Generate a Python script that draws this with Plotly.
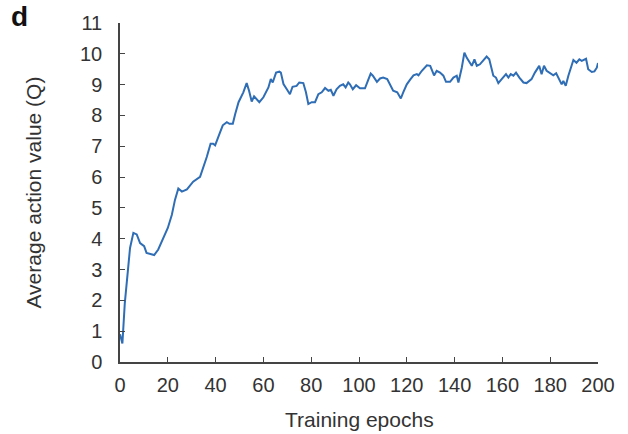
import plotly.graph_objects as go

# Data
epochs = [0, 1, 2, 4.2, 5.6, 7, 8.4, 10.1, 11.1, 13.2, 14.3, 16, 18.1, 20, 21.7, 23, 24.4,
          25.9, 28, 30.6, 33.5, 34.8, 36.3, 37.9, 39, 39.8, 40.7, 41.9, 43, 44.7, 45.8,
          47.2, 48.2, 49.6, 51.6, 53, 54, 55.1, 56.1, 57.2, 58.3, 60, 62.1, 63.1, 63.9,
          65.3, 66.7, 67.3, 68.4, 69.8, 71.1, 72.2, 73.9, 75, 76.7, 77.8, 78.8, 80.2,
          81.6, 83, 84.4, 85.8, 87.2, 88.2, 89.3, 90.6, 92, 93.4, 94.4, 95.5, 96.2, 97.4,
          98.8, 100.4, 102.5, 103.7, 104.9, 105.8, 107.5, 108.8, 110.1, 111.8, 113,
          114.3, 116, 117.5, 118.5, 120, 121.4, 122.8, 124.2, 124.9, 126.3, 128.4, 129.8,
          130.4, 131.4, 132.5, 133.9, 135.3, 136.4, 138.1, 139.5, 140.9, 141.6, 143,
          144.1, 145.1, 146.2, 147.2, 148.3, 149.3, 150.6, 152, 153.4, 154.5, 156.2,
          157.3, 158.3, 159.7, 161.5, 162.5, 163.5, 164.6, 165.7, 167.1, 168.8, 170.1,
          172.2, 173.6, 175.4, 176.4, 177.4, 178.5, 179.9, 181.3, 182.5, 183.8, 184.8,
          185.5, 186.5, 187.6, 188.8, 189.7, 191, 192.2, 193.2, 194.1, 195, 195.9, 197.4,
          198.5, 199.5, 200]
avg_q = [0.9, 0.6, 1.9, 3.7, 4.19, 4.14, 3.86, 3.76, 3.54, 3.5, 3.47, 3.65, 4.02, 4.35,
         4.78, 5.26, 5.63, 5.53, 5.6, 5.85, 6.01, 6.28, 6.65, 7.08, 7.08, 7.03, 7.24, 7.46,
         7.68, 7.78, 7.73, 7.73, 8.05, 8.43, 8.75, 9.05, 8.8, 8.45, 8.62, 8.53, 8.43, 8.59,
         8.91, 9.18, 9.07, 9.39, 9.42, 9.39, 9.02, 8.85, 8.69, 8.93, 8.96, 9.07, 9.05, 8.75,
         8.37, 8.43, 8.43, 8.69, 8.75, 8.89, 8.8, 8.83, 8.64, 8.85, 8.96, 9.01, 8.91, 9.07,
         9.01, 8.85, 8.98, 8.88, 8.88, 9.12, 9.36, 9.29, 9.09, 9.2, 9.23, 9.18, 9.01, 8.8,
         8.75, 8.55, 8.75, 9.01, 9.16, 9.3, 9.34, 9.3, 9.45, 9.63, 9.61, 9.5, 9.3, 9.45,
         9.39, 9.29, 9.09, 9.09, 9.23, 9.29, 9.07, 9.55, 10.04, 9.87, 9.71, 9.61, 9.82,
         9.61, 9.66, 9.77, 9.91, 9.82, 9.29, 9.23, 9.05, 9.18, 9.34, 9.23, 9.34, 9.29,
         9.39, 9.23, 9.07, 9.05, 9.18, 9.39, 9.61, 9.34, 9.61, 9.45, 9.37, 9.3, 9.37, 9.18,
         9.01, 9.12, 8.96, 9.29, 9.61, 9.8, 9.71, 9.82, 9.77, 9.8, 9.84, 9.5, 9.41, 9.43,
         9.55, 9.7]

x_ticks = [0, 20, 40, 60, 80, 100, 120, 140, 160, 180, 200]
y_ticks = list(range(0, 12))

FONT = "Liberation Sans, Arial, sans-serif"
AXIS_COLOR = "#444444"
TEXT_COLOR = "#333333"

fig = go.Figure()
fig.add_trace(go.Scatter(x=epochs, y=avg_q, mode="lines",
                         line=dict(color="#2f6db5", width=2), showlegend=False))

fig.update_layout(
    width=628, height=434,
    margin=dict(l=120, r=30, t=20, b=72),
    paper_bgcolor="white", plot_bgcolor="white",
    font=dict(family=FONT, size=20, color=TEXT_COLOR),
)
fig.update_xaxes(range=[0, 200], tickvals=x_ticks, ticks="inside", ticklen=5,
                 tickcolor=AXIS_COLOR, tickwidth=1.3, showline=True, linecolor=AXIS_COLOR,
                 linewidth=1.5, showgrid=False, zeroline=False, ticklabelstandoff=4,
                 tickfont=dict(size=20, color=TEXT_COLOR))
fig.update_yaxes(range=[0, 11], tickvals=y_ticks, ticks="inside", ticklen=5,
                 tickcolor=AXIS_COLOR, tickwidth=1.3, showline=True, linecolor=AXIS_COLOR,
                 linewidth=1.5, showgrid=False, zeroline=False, ticklabelstandoff=12,
                 tickfont=dict(size=20, color=TEXT_COLOR))

fig.add_annotation(text="Training epochs", xref="paper", yref="paper",
                   x=0.5, y=-0.17, xanchor="center", yanchor="middle", showarrow=False,
                   font=dict(size=21, color=TEXT_COLOR, family=FONT))
fig.add_annotation(text="Average action value (Q)", xref="paper", yref="paper",
                   x=-0.182, y=0.5, xanchor="center", yanchor="middle", textangle=-90,
                   showarrow=False, font=dict(size=21, color=TEXT_COLOR, family=FONT))
fig.add_annotation(text="<b>d</b>", xref="paper", yref="paper",
                   x=-0.21, y=1.02, xanchor="center", yanchor="middle", showarrow=False,
                   font=dict(size=28, color="#111111", family=FONT))

fig.write_html("out.html", config={"displayModeBar": False},
               post_script="document.body.style.margin='0';"
                           "document.body.style.overflow='hidden';")
